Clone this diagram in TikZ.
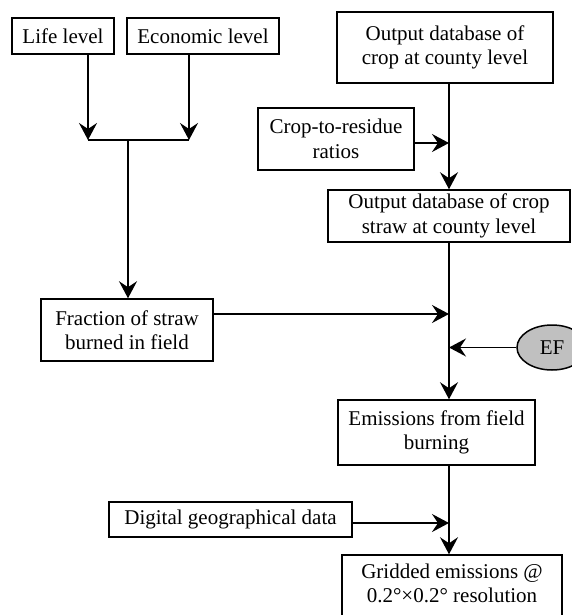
\documentclass[tikz,border=0pt]{standalone}
\usepackage{fontspec}
\setmainfont{Liberation Serif}
\usetikzlibrary{arrows.meta,shapes.geometric}
\definecolor{efgray}{RGB}{192,192,192}
\begin{document}
\begin{tikzpicture}[x=1pt,y=-1pt,
  box/.style={draw,line width=1.5pt,align=center,inner sep=0pt,font=\fontsize{21}{24.5}\selectfont},
  conn/.style={line width=1.6pt},
  arr/.style={conn,-{Stealth[length=17pt,width=18pt,inset=6pt]}}]
\useasboundingbox (0,0) rectangle (572,615);
% boxes
\node[box,minimum width=102pt,minimum height=36pt] (life) at (63,36) {Life level};
\node[box,minimum width=152pt,minimum height=36pt] (econ) at (203,36) {Economic level};
\node[box,minimum width=216pt,minimum height=71pt] (out1) at (445,47.5) {Output database of\\crop at county level};
\node[box,minimum width=156pt,minimum height=62pt] (crop) at (336,139) {Crop-to-residue\\ratios};
\node[box,minimum width=242pt,minimum height=52pt] (straw) at (449,216) {Output database of crop\\straw at county level};
\node[box,minimum width=172pt,minimum height=62pt] (frac) at (127,330) {Fraction of straw\\burned in field};
\node[box,ellipse,fill=efgray,minimum width=70pt,minimum height=45pt] (ef) at (552,347.5) {EF};
\node[box,minimum width=197pt,minimum height=65pt] (emis) at (436.5,432.5) {Emissions from field\\burning};
\node[box,minimum width=243pt,minimum height=35pt] (dig) at (230.5,519.5) {Digital geographical data};
\node[box,minimum width=220pt,minimum height=70pt] (grid) at (452,590) {};
\node[box,draw=none] (gridtext) at (452,583.5) {Gridded emissions @\\0.2°×0.2° resolution};
% junction coordinates
\coordinate (la) at (88,140);
\coordinate (ea) at (189,140);
\coordinate (j) at (128,140);
\coordinate (mf) at (449,314);
\coordinate (md) at (449,523);
% left branch
\draw[arr] (life.south -| la) -- (la);
\draw[arr] (econ.south -| ea) -- (ea);
\draw[conn] (la) -- (ea);
\draw[arr] (j) -- (j |- frac.north);
% main column
\draw[arr] (out1.south -| straw.north) -- (straw.north);
\draw[arr] ([yshift=-4pt]crop.east) -- ([yshift=-4pt]crop.east -| straw.north);
\draw[arr] (straw.south) -- (straw.south |- emis.north);
\draw[arr] (frac.east |- mf) -- (mf);
\draw[arr] (ef.west) -- (ef.west -| straw.south);
\draw[arr] (emis.south -| straw.south) -- (straw.south |- grid.north);
\draw[arr] (dig.east |- md) -- (md);
\end{tikzpicture}
\end{document}
